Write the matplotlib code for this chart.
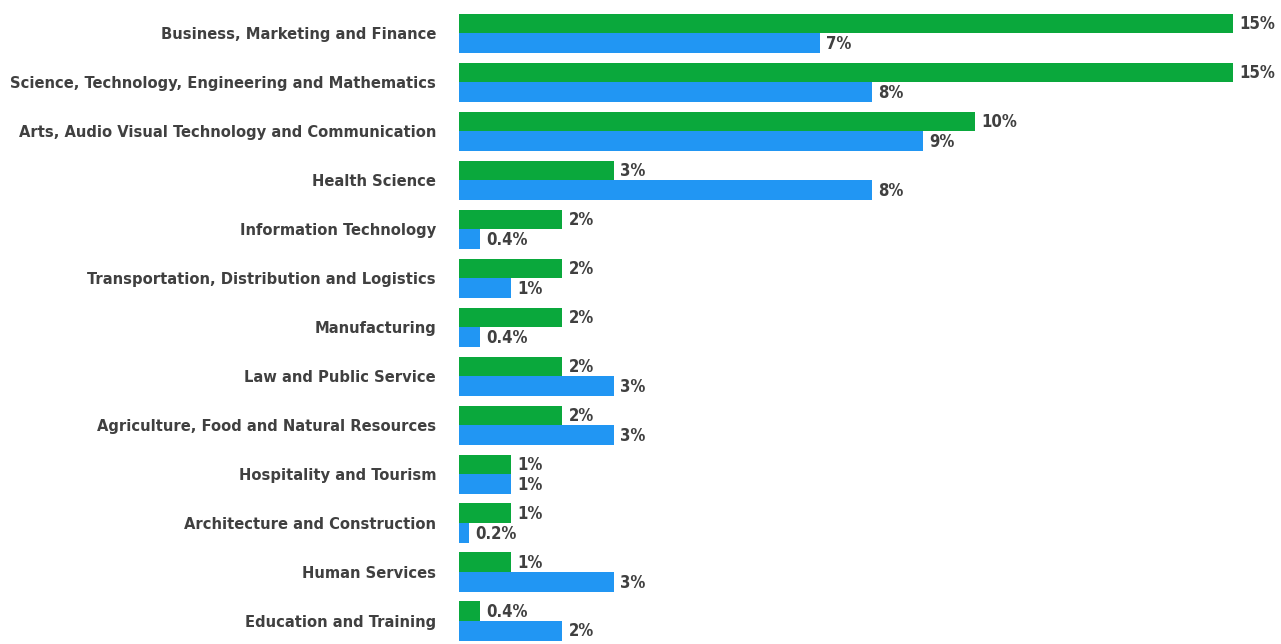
import matplotlib
matplotlib.use("Agg")
import matplotlib.pyplot as plt
import numpy as np

# DATA
categories = [
    "Business, Marketing and Finance",
    "Science, Technology, Engineering and Mathematics",
    "Arts, Audio Visual Technology and Communication",
    "Health Science",
    "Information Technology",
    "Transportation, Distribution and Logistics",
    "Manufacturing",
    "Law and Public Service",
    "Agriculture, Food and Natural Resources",
    "Hospitality and Tourism",
    "Architecture and Construction",
    "Human Services",
    "Education and Training",
]
green_vals = [15, 15, 10, 3, 2, 2, 2, 2, 2, 1, 1, 1, 0.4]
blue_vals = [7, 8, 9, 8, 0.4, 1, 0.4, 3, 3, 1, 0.2, 3, 2]

GREEN = "#0aa83c"
BLUE = "#2196f3"
TEXT = "#404040"
FONT = dict(family="DejaVu Sans", stretch="condensed", weight="bold")

fig = plt.figure(figsize=(12.81, 6.44), dpi=100)
ax = fig.add_axes([459 / 1281, 0, 1 - 459 / 1281, 1])

y = np.arange(len(categories))
h = 0.4
ax.barh(y - h / 2, green_vals, height=h, color=GREEN)
ax.barh(y + h / 2, blue_vals, height=h, color=BLUE)

def fmt(v):
    return ("%g" % v) + "%"

for yi, g, b in zip(y, green_vals, blue_vals):
    ax.annotate(fmt(g), (g, yi - h / 2), xytext=(4.5, -0.5), textcoords="offset points",
                va="center", ha="left", fontsize=12, color=TEXT, **FONT)
    ax.annotate(fmt(b), (b, yi + h / 2), xytext=(4.5, -0.5), textcoords="offset points",
                va="center", ha="left", fontsize=12, color=TEXT, **FONT)

ax.set_xlim(0, 15 * 822 / 774)
ax.set_ylim(12.47, -0.684)
ax.set_yticks(y)
ax.set_yticklabels(categories, fontsize=11.8, color=TEXT, **FONT)
ax.tick_params(axis="y", length=0, pad=16.5)
ax.set_xticks([])
for s in ax.spines.values():
    s.set_visible(False)

fig.savefig("out.png", dpi=100)
